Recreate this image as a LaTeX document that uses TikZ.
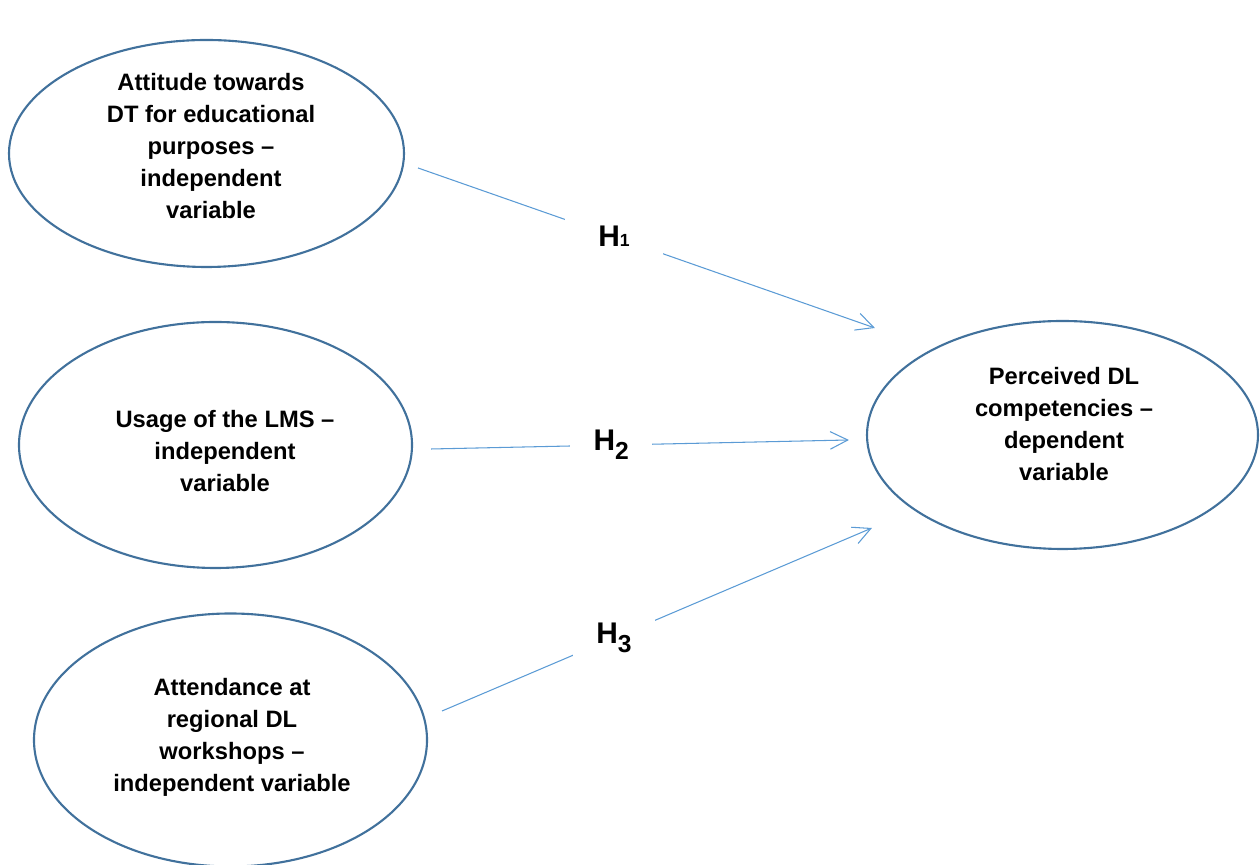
\documentclass[tikz,border=0pt]{standalone}
\usepackage{fontspec}
\setmainfont{Liberation Sans}
\usepackage{xcolor}
\usetikzlibrary{arrows.meta,positioning,calc,shapes.geometric}

\definecolor{rim}{HTML}{41719C}
\definecolor{arr}{HTML}{5B9BD5}

\begin{document}
\begin{tikzpicture}[
  every node/.style={font=\fontsize{13.5}{18.2}\selectfont\bfseries},
  var/.style={ellipse, draw=rim, line width=1.2pt, minimum width=#1},
  txt/.style={align=center},
  hyp/.style={draw=arr, line width=0.6pt, -{Straight Barb[length=10pt,width=10pt]}},
  hlab/.style={fill=white, minimum height=0.8cm, minimum width=#1,
               font=\fontsize{17}{20}\selectfont\bfseries},
]
\useasboundingbox (0,0) rectangle (25.2,17.3);
% variables
\node[var=7.9cm,  minimum height=4.54cm] (att) at (4.13,14.23) {};
\node[var=7.86cm, minimum height=4.92cm] (lms) at (4.31,8.40)  {};
\node[var=7.86cm, minimum height=5.06cm] (ws)  at (4.61,2.50)  {};
\node[var=7.82cm, minimum height=4.56cm] (dl)  at (21.25,8.60) {};
\node[txt] (att-t) at (4.22,14.38)
  {Attitude towards\\DT for educational\\purposes --\\independent\\variable};
\node[txt] (lms-t) at (4.50,8.27) {Usage of the LMS --\\independent\\variable};
\node[txt] (ws-t) at (4.64,2.56)
  {Attendance at\\regional DL\\workshops --\\independent variable};
\node[txt] (dl-t) at (21.28,8.82)
  {Perceived DL\\competencies --\\dependent\\variable};
% hypotheses
\draw[hyp] ([shift={(0.26,-0.29)}]att.east) --
  node[hlab=1.96cm, pos=0.429] (h1) {H{\fontsize{10}{10}\selectfont 1}}
  ([shift={(0.18,2.14)}]dl.west);
\draw[hyp] ([shift={(0.36,-0.08)}]lms.east) --
  node[hlab=1.64cm, pos=0.431] (h2) {H\raisebox{-5pt}{\fontsize{14}{14}\selectfont 2}}
  ([shift={(-0.34,-0.10)}]dl.west);
\draw[hyp] ([shift={(0.28,0.58)}]ws.east) --
  node[hlab=1.64cm, pos=0.40] (h3) {H\raisebox{-5pt}{\fontsize{14}{14}\selectfont 3}}
  ([shift={(0.12,-1.86)}]dl.west);
\end{tikzpicture}
\end{document}
